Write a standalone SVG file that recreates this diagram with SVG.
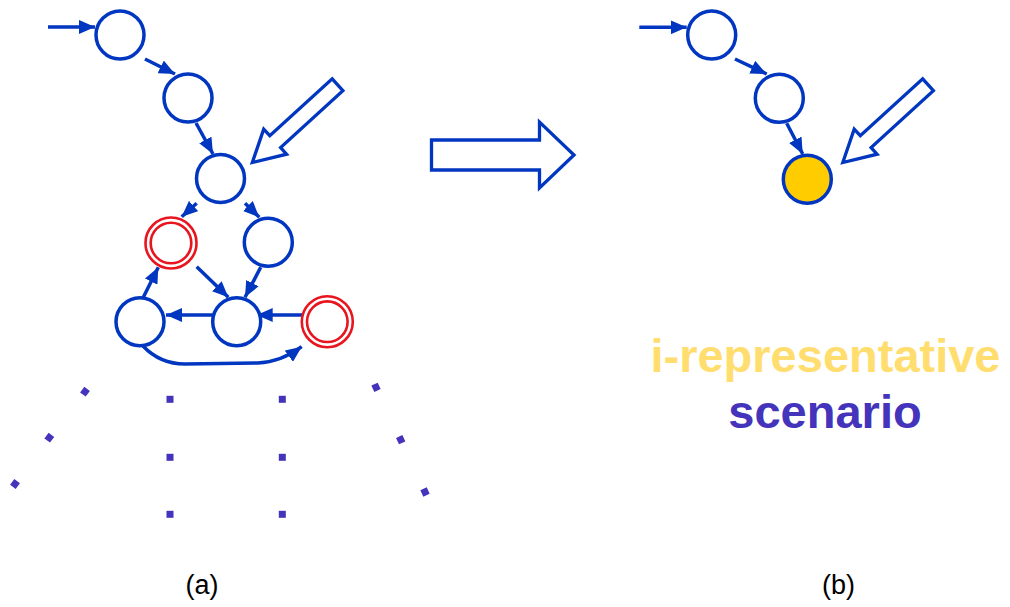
<svg xmlns="http://www.w3.org/2000/svg" width="1010" height="607" viewBox="0 0 1010 607">
  <defs>
    <marker id="ah" markerUnits="userSpaceOnUse" markerWidth="17" markerHeight="14" refX="16" refY="7" orient="auto" viewBox="0 0 17 14">
      <path d="M0,0 L16,7 L0,14 Z" fill="#0036c0"/>
    </marker>
    <rect id="dot" x="-3.5" y="-3.5" width="7" height="7" fill="#4433bb"/>
  </defs>
  <style>
    .n { fill: #ffffff; stroke: #0036c0; stroke-width: 3.5; }
    .nf { fill: #ffcc00; stroke: #0036c0; stroke-width: 3.5; }
    .r { fill: none; stroke: #e8141e; stroke-width: 2.6; }
    .c { fill: none; stroke: #0036c0; stroke-width: 3.5; marker-end: url(#ah); }
    .ha { fill: #ffffff; stroke: #0036c0; stroke-width: 3.3; stroke-linejoin: miter; }
    .lbl { font-family: "Liberation Sans", Arial, sans-serif; font-size: 27px; fill: #000000; text-anchor: middle; }
    .big { font-family: "Liberation Sans", Arial, sans-serif; font-size: 47px; font-weight: bold; text-anchor: middle; }
  </style>
  <rect width="1010" height="607" fill="#ffffff"/>

  <!-- connectors -->
  <g id="connectors">
    <line class="c" x1="48" y1="27" x2="95" y2="27"/>
    <line class="c" x1="145" y1="59" x2="175" y2="74"/>
    <line class="c" x1="196" y1="123" x2="213" y2="154"/>
    <line class="c" x1="196.7" y1="203.3" x2="181.7" y2="216.7"/>
    <line class="c" x1="245" y1="203.3" x2="259.3" y2="217.3"/>
    <line class="c" x1="196.7" y1="266.7" x2="228.3" y2="297.3"/>
    <line class="c" x1="260.7" y1="267.3" x2="245" y2="297.3"/>
    <line class="c" x1="212.7" y1="315" x2="166" y2="315"/>
    <line class="c" x1="303.3" y1="315" x2="256.7" y2="315"/>
    <line class="c" x1="143.3" y1="297.3" x2="158.3" y2="267.3"/>
    <path class="c" d="M143,346 Q160,364 185,364 L258,363 Q281,362 301.7,346.7"/>

    <line class="c" x1="639.3" y1="27.3" x2="686.7" y2="27.3"/>
    <line class="c" x1="735" y1="59" x2="766.7" y2="74"/>
    <line class="c" x1="786.7" y1="123.3" x2="802.7" y2="154"/>

    <polygon class="ha" points="252.3,162.5 263.7,129.1 269.8,135.7 332.2,78.8 342.9,90.6 280.6,147.5 286.6,154.2"/>
    <polygon class="ha" points="842.8,162.5 854.2,129.1 860.3,135.7 922.7,78.8 933.4,90.6 871.1,147.5 877.1,154.2"/>
    <polygon class="ha" points="431.5,140 539.5,140 539.5,122 574,155 539.5,188 539.5,170 431.5,170"/>
  </g>

  <!-- left graph nodes -->
  <g id="nA"><circle class="n" cx="120" cy="35" r="24"/></g>
  <g id="nB"><circle class="n" cx="188" cy="98" r="24"/></g>
  <g id="nC"><circle class="n" cx="220.5" cy="178.5" r="24"/></g>
  <g id="nD"><circle class="r" cx="171" cy="243" r="25.5"/><circle class="r" cx="171" cy="243" r="20.3"/></g>
  <g id="nE"><circle class="n" cx="268.3" cy="242.3" r="24"/></g>
  <g id="nF"><circle class="n" cx="140" cy="321.7" r="24"/></g>
  <g id="nG"><circle class="n" cx="236.7" cy="321.7" r="24"/></g>
  <g id="nH"><circle class="r" cx="327.3" cy="321.7" r="25.5"/><circle class="r" cx="327.3" cy="321.7" r="20.3"/></g>

  <!-- right graph nodes -->
  <g id="rA"><circle class="n" cx="711.7" cy="35" r="24"/></g>
  <g id="rB"><circle class="n" cx="779.3" cy="98.3" r="24"/></g>
  <g id="rC"><circle class="nf" cx="807.3" cy="179.3" r="24"/></g>

  <!-- continuation dots -->
  <g id="dots">
    <use href="#dot" transform="translate(85,391.7) rotate(37)"/>
    <use href="#dot" transform="translate(49.3,437.7) rotate(37)"/>
    <use href="#dot" transform="translate(15,484) rotate(37)"/>
    <use href="#dot" transform="translate(170,399.3)"/>
    <use href="#dot" transform="translate(170,457.3)"/>
    <use href="#dot" transform="translate(170,514.3)"/>
    <use href="#dot" transform="translate(282.3,399.3)"/>
    <use href="#dot" transform="translate(282.3,457.3)"/>
    <use href="#dot" transform="translate(282.3,514.3)"/>
    <use href="#dot" transform="translate(376,387.3) rotate(65)"/>
    <use href="#dot" transform="translate(400.7,439.7) rotate(65)"/>
    <use href="#dot" transform="translate(425,492) rotate(65)"/>
  </g>

  <!-- texts -->
  <text class="big" x="825.5" y="371.7" fill="#ffdd6e">i-representative</text>
  <text class="big" x="825" y="428.3" fill="#4433bb">scenario</text>
  <text class="lbl" x="202" y="593.5">(a)</text>
  <text class="lbl" x="838.5" y="593.5">(b)</text>
</svg>
